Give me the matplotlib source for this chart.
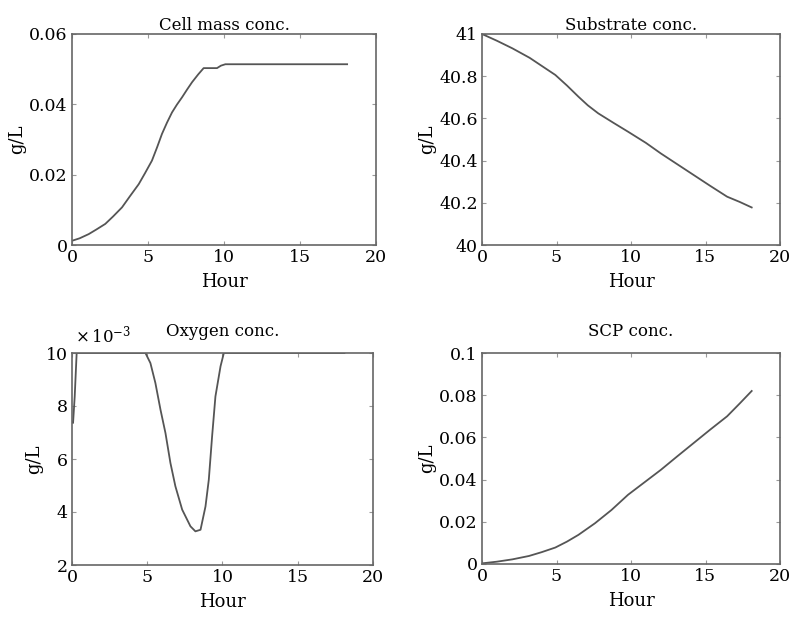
import numpy as np
import matplotlib
matplotlib.use("Agg")
import matplotlib.pyplot as plt

plt.rcParams['font.family'] = ['DejaVu Serif']
plt.rcParams['mathtext.fontset'] = 'dejavuserif'

# cell mass (g/L)
t_cell = [0, 0.5, 1.1, 1.6, 2.19, 2.7, 3.29, 3.8, 4.39, 4.8, 5.26, 5.6, 5.92, 6.25, 6.58,
          6.9, 7.24, 7.57, 7.9, 8.3, 8.66, 9.1, 9.54, 9.8, 10.09, 18.1]
cell = [0.0012, 0.0019, 0.0031, 0.0044, 0.006, 0.0081, 0.0107, 0.0138, 0.0173, 0.0204,
        0.024, 0.0278, 0.0316, 0.0348, 0.0377, 0.0399, 0.042, 0.0442, 0.0463, 0.0485,
        0.0503, 0.0503, 0.0503, 0.051, 0.0514, 0.0514]

# substrate (g/L)
t_sub = [0, 1.0, 2.04, 3.2, 4.26, 4.92, 5.7, 6.47, 7.1, 7.8, 8.8, 9.8, 11.0, 12.0, 13.1,
         14.2, 15.3, 16.45, 17.3, 18.1]
sub = [41.0, 40.968, 40.932, 40.887, 40.837, 40.806, 40.756, 40.703, 40.662, 40.624,
       40.58, 40.537, 40.484, 40.434, 40.383, 40.332, 40.281, 40.229, 40.204, 40.178]

# oxygen (x 1e-3 g/L)
t_oxy = [0, 0.07, 0.18, 0.27, 0.31, 4.88, 5.21, 5.54, 5.88, 6.21, 6.54, 6.87, 7.32, 7.87,
         8.2, 8.54, 8.87, 9.09, 9.31, 9.53, 9.87, 10.09, 18.1]
oxy = [7.4, 7.36, 8.36, 9.5, 10.0, 10.0, 9.62, 8.87, 7.86, 6.98, 5.85, 4.97, 4.09, 3.46,
       3.27, 3.33, 4.21, 5.22, 6.86, 8.36, 9.5, 10.0, 10.0]

# SCP (g/L)
t_scp = [0, 1.0, 2.04, 3.15, 4.0, 4.92, 5.7, 6.47, 7.58, 8.69, 9.8, 10.9, 12.0, 13.1,
         14.2, 15.3, 16.45, 17.3, 18.1]
scp = [0.0003, 0.0011, 0.0022, 0.0038, 0.0056, 0.0078, 0.0106, 0.0138, 0.0193, 0.0256,
       0.0328, 0.0387, 0.0446, 0.051, 0.0573, 0.0636, 0.07, 0.0761, 0.082]

fig = plt.figure(figsize=(7.92, 6.2), dpi=100)
W, H = 792, 620

def make_ax(l, r, t, b):
    ax = fig.add_axes([l / W, 1 - b / H, (r - l) / W, (b - t) / H])
    ax.tick_params(direction='in', top=True, right=True, length=3, width=0.8,
                   color='#999999', labelsize=12.5, pad=3)
    for s in ax.spines.values():
        s.set_color('#666666')
        s.set_linewidth(1.2)
    ax.set_xlim(0, 20)
    ax.set_xticks([0, 5, 10, 15, 20])
    ax.set_xlabel('Hour', fontsize=13, labelpad=5)
    ax.set_ylabel('g/L', fontsize=13, labelpad=2)
    return ax

lc = '#555555'
lw = 1.3

ax1 = make_ax(72, 376, 34, 245)
ax1.plot(t_cell, cell, color=lc, lw=lw)
ax1.set_ylim(0, 0.06)
ax1.set_yticks([0, 0.02, 0.04, 0.06])
ax1.set_yticklabels(['0', '0.02', '0.04', '0.06'])
ax1.set_title('Cell mass conc.', fontsize=12, pad=3)

ax2 = make_ax(482, 780, 34, 245)
ax2.plot(t_sub, sub, color=lc, lw=lw)
ax2.set_ylim(40, 41)
ax2.set_yticks([40, 40.2, 40.4, 40.6, 40.8, 41])
ax2.set_yticklabels(['40', '40.2', '40.4', '40.6', '40.8', '41'])
ax2.set_title('Substrate conc.', fontsize=12, pad=3)

ax3 = make_ax(72, 373, 353, 565)
ax3.plot(t_oxy, oxy, color=lc, lw=lw)
ax3.set_ylim(2, 10)
ax3.set_yticks([2, 4, 6, 8, 10])
ax3.set_title('Oxygen conc.', fontsize=12, pad=12)
ax3.text(0.01, 1.03, r'$\times\,10^{-3}$', transform=ax3.transAxes, fontsize=12,
         ha='left', va='bottom')

ax4 = make_ax(482, 780, 353, 564)
ax4.plot(t_scp, scp, color=lc, lw=lw)
ax4.set_ylim(0, 0.1)
ax4.set_yticks([0, 0.02, 0.04, 0.06, 0.08, 0.1])
ax4.set_yticklabels(['0', '0.02', '0.04', '0.06', '0.08', '0.1'])
ax4.set_title('SCP conc.', fontsize=12, pad=12)

fig.savefig('out.png', dpi=100)
